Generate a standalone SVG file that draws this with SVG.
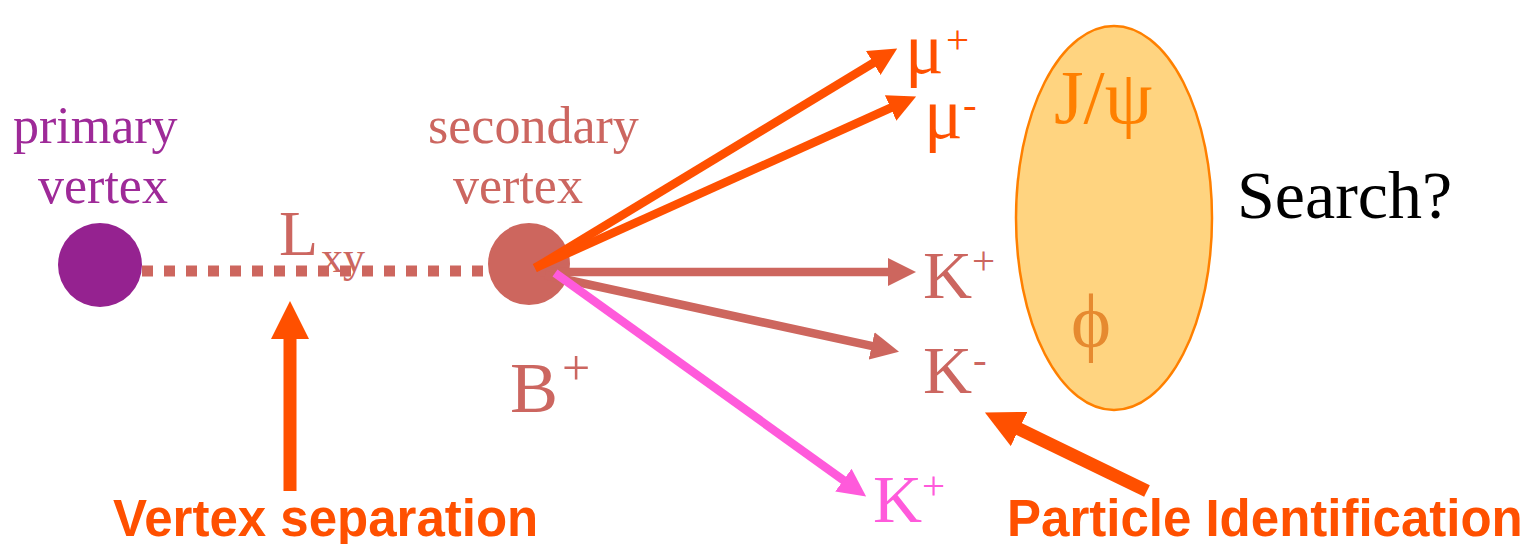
<svg xmlns="http://www.w3.org/2000/svg" width="1533" height="544" viewBox="0 0 1533 544">
<style>
.serif{font-family:"Liberation Serif","Times New Roman",serif}
.bold{font-family:"Liberation Sans",Arial,sans-serif;font-weight:bold;font-size:51px;fill:#FF5000}
.purple{fill:#9E2A98}
.rose{fill:#CC6660}
.orange{fill:#FF5000}
.pink{fill:#FF5ADB}
.thin{stroke-width:8.5;fill:none;stroke-linecap:butt}
.thick{stroke-width:13;fill:none;stroke:#FF5000}
</style>
<defs>
<marker id="hOr" viewBox="0 0 28 28" markerUnits="userSpaceOnUse" markerWidth="28" markerHeight="28" refX="1" refY="14" orient="auto"><path d="M0,0 L28,14 L0,28 z" fill="#FF5000"/></marker>
<marker id="hRo" viewBox="0 0 28 28" markerUnits="userSpaceOnUse" markerWidth="28" markerHeight="28" refX="1" refY="14" orient="auto"><path d="M0,0 L28,14 L0,28 z" fill="#CD665E"/></marker>
<marker id="hPk" viewBox="0 0 28 28" markerUnits="userSpaceOnUse" markerWidth="28" markerHeight="28" refX="1" refY="14" orient="auto"><path d="M0,0 L28,14 L0,28 z" fill="#FF5ADB"/></marker>
<marker id="hBig" viewBox="0 0 38 38" markerUnits="userSpaceOnUse" markerWidth="38" markerHeight="38" refX="1" refY="19" orient="auto"><path d="M0,0 L38,19 L0,38 z" fill="#FF5000"/></marker>
</defs>

<g id="primary-vertex">
<ellipse cx="100" cy="265" rx="42" ry="42" fill="#952290"/>
<text class="serif purple" font-size="52" x="13" y="143">primary</text>
<text class="serif purple" font-size="52" x="38" y="203">vertex</text>
</g>

<g id="lxy-line">
<line x1="142" y1="271" x2="490" y2="271" stroke="#CD665E" stroke-width="11" stroke-dasharray="11 11"/>
<text class="serif rose" x="279" y="255" font-size="64">L</text>
<text class="serif rose" x="321" y="272" font-size="44">xy</text>
</g>

<g id="secondary-vertex">
<ellipse cx="529" cy="264" rx="41" ry="41" fill="#CD665E"/>
<text class="serif rose" font-size="52" x="428" y="143">secondary</text>
<text class="serif rose" font-size="52" x="453" y="203">vertex</text>
<text class="serif rose" font-size="72" x="510" y="412">B</text>
<text class="serif rose" font-size="50" x="562" y="385">+</text>
</g>

<g id="connectors">
<line class="thin" x1="540" y1="272" x2="889" y2="272" stroke="#CD665E" marker-end="url(#hRo)"/>
<line class="thin" x1="545" y1="275" x2="872.6" y2="346.1" stroke="#CD665E" marker-end="url(#hRo)"/>
<line class="thin" x1="555" y1="273" x2="844.2" y2="480.7" stroke="#FF5ADB" marker-end="url(#hPk)"/>
<line class="thin" x1="535" y1="268" x2="874.1" y2="62.5" stroke="#FF5000" marker-end="url(#hOr)"/>
<line class="thin" x1="535" y1="268" x2="891.5" y2="107.5" stroke="#FF5000" marker-end="url(#hOr)"/>
<line class="thick" x1="290" y1="491" x2="290" y2="338" marker-end="url(#hBig)"/>
<line class="thick" x1="1147" y1="491" x2="1018.2" y2="428.6" marker-end="url(#hBig)"/>
</g>

<g id="mu-plus">
<text class="serif orange" x="905" y="73" font-size="72">μ</text>
<text class="serif orange" x="946" y="53" font-size="41">+</text>
</g>
<g id="mu-minus">
<text class="serif orange" x="924" y="138" font-size="72">μ</text>
<text class="serif orange" x="963" y="118" font-size="41">-</text>
</g>
<g id="k-plus">
<text class="serif rose" x="923" y="298" font-size="68">K</text>
<text class="serif rose" x="972" y="274" font-size="41">+</text>
</g>
<g id="k-minus">
<text class="serif rose" x="923" y="393" font-size="68">K</text>
<text class="serif rose" x="973" y="373" font-size="41">-</text>
</g>
<g id="k-plus-pink">
<text class="serif pink" x="873" y="522" font-size="68">K</text>
<text class="serif pink" x="922" y="499" font-size="41">+</text>
</g>

<g id="resonance">
<ellipse cx="1114" cy="218" rx="98" ry="192" fill="#FFD480" stroke="#FF8000" stroke-width="2.5"/>
<text class="serif" x="1054" y="123" font-size="76" fill="#FF8000">J/ψ</text>
<text class="serif" x="1071" y="347" font-size="76" fill="#E68A30">ϕ</text>
</g>

<g id="search">
<text class="serif" x="1237" y="218" font-size="68" fill="#000">Search?</text>
</g>

<g id="labels">
<text class="bold" x="113" y="536">Vertex separation</text>
<text class="bold" x="1007" y="536">Particle Identification</text>
</g>
</svg>
